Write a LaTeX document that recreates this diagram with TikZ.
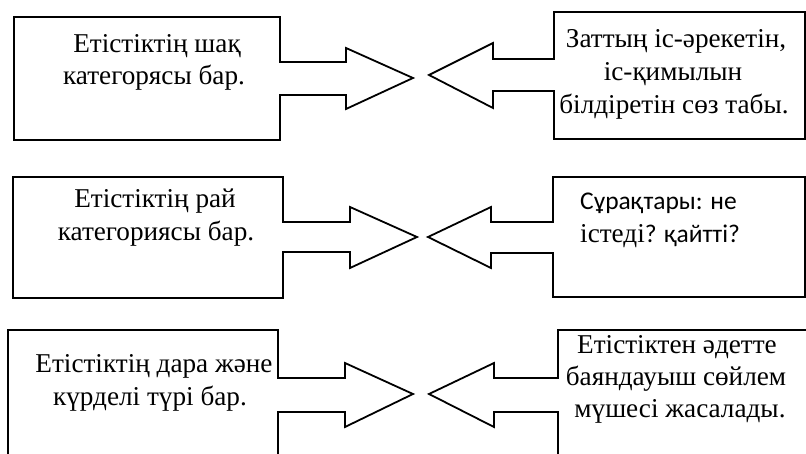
\documentclass[tikz,border=0pt]{standalone}
\usepackage{fontspec}
\setmainfont{Liberation Serif}
\newfontfamily\calib{Carlito}
\begin{document}
\begin{tikzpicture}[x=1pt,y=-1pt,
  callout/.style={draw=black,line width=1.8pt,line join=miter,fill=white},
  txt/.style={anchor=base,inner sep=0pt,font=\fontsize{27.2}{33}\selectfont},
  ctxt/.style={anchor=base west,inner sep=0pt,font=\calib\fontsize{25.5}{33}\selectfont}]
\useasboundingbox (0,0) rectangle (806,454);
\clip (0,0) rectangle (806,454);
% Row 1
\draw[callout] (14,17) -- (280,17) -- (280,62) -- (346,62) -- (346,48) -- (413,78)
  -- (346,109) -- (346,95) -- (280,95) -- (280,140) -- (14,140) -- cycle;
\draw[callout] (805,12) -- (554,12) -- (554,59) -- (493,59) -- (493,43) -- (429,75)
  -- (493,108) -- (493,91) -- (554,91) -- (554,139) -- (805,139) -- cycle;
% Row 2
\draw[callout] (13,177) -- (283,177) -- (283,222) -- (350,222) -- (350,207) -- (417,237)
  -- (350,268) -- (350,252) -- (283,252) -- (283,298) -- (13,298) -- cycle;
\draw[callout] (805,177) -- (553,177) -- (553,222) -- (491,222) -- (491,207) -- (428,237)
  -- (491,268) -- (491,253) -- (553,253) -- (553,297) -- (805,297) -- cycle;
% Row 3
\draw[callout] (8,330) -- (278,330) -- (278,378) -- (345,378) -- (345,363) -- (413,394)
  -- (345,427) -- (345,412) -- (278,412) -- (278,470) -- (8,470) -- cycle;
\draw[callout] (820,330) -- (558,330) -- (558,378) -- (494,378) -- (494,363) -- (429,394)
  -- (494,427) -- (494,412) -- (558,412) -- (558,470) -- (820,470) -- cycle;
% Texts
\node[txt] (a1) at (157,53) {Етістіктің шақ};
\node[txt] (a2) at (154,85) {категорясы бар.};
\node[txt] (b1) at (676,48) {Заттың іс-әрекетін,};
\node[txt] (b2) at (673,81) {іс-қимылын};
\node[txt] (b3) at (674,114) {білдіретін сөз табы.};
\node[txt] (c1) at (155,208) {Етістіктің рай};
\node[txt] (c2) at (156,241) {категориясы бар.};
\node[ctxt] (d1) at (580,210) {Сұрақтары: не};
\node[ctxt] (d2) at (580,243) {{\rmfamily\fontsize{27.2}{33}\selectfont істеді}? қайтті?};
\node[txt] (e1) at (154,373) {Етістіктің дара және};
\node[txt] (e2) at (150,405) {күрделі түрі бар.};
\node[txt] (f1) at (677,353) {Етістіктен әдетте};
\node[txt] (f2) at (676,385) {баяндауыш сөйлем};
\node[txt] (f3) at (680,417) {мүшесі жасалады.};
\end{tikzpicture}
\end{document}
